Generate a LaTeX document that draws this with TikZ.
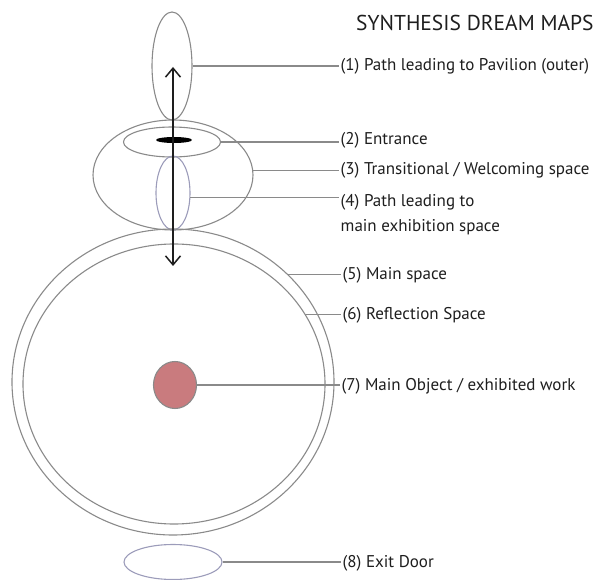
\documentclass[tikz,border=0pt]{standalone}
\usepackage{fontspec}
\setmainfont{PT Sans}
\usetikzlibrary{shapes.geometric,arrows.meta}
\definecolor{ln}{HTML}{8A8A8A}
\definecolor{pl}{HTML}{9C9CBA}
\definecolor{obj}{HTML}{C97B7E}
\definecolor{txt}{HTML}{1E1E1E}
\begin{document}
\begin{tikzpicture}[x=1pt,y=-1pt,
  shp/.style={ellipse,draw=ln,line width=1.1pt,inner sep=0pt,minimum width=#1},
  lbl/.style={anchor=west,inner sep=1.5pt,font=\fontsize{17}{25}\selectfont,text=txt,align=left},
  lead/.style={draw=ln,line width=1.1pt}]
\useasboundingbox (0,0) rectangle (595,580);
% shapes
\node[shp=40pt,minimum height=108pt] (p1) at (172,66) {};
\node[shp=160pt,minimum height=110pt] (t) at (173,175) {};
\node[shp=97pt,minimum height=30pt] (e2) at (172,142) {};
\node[shp=34pt,minimum height=74pt,draw=pl] (p4) at (173,193) {};
\node[shp=322pt,minimum height=306pt] (outer) at (173,382) {};
\node[shp=302pt,minimum height=280pt] (inner) at (174,384) {};
\node[shp=43pt,minimum height=47pt,fill=obj] (red) at (175,385) {};
\node[shp=98pt,minimum height=35pt,draw=pl] (exit) at (173,562) {};
\node[ellipse,fill=black,inner sep=0pt,minimum width=36pt,minimum height=6pt] (bar) at (174,140) {};
% arrow
\coordinate (atop) at (173,67);
\coordinate (abot) at (173,266);
\draw[line width=1.5pt,draw=txt,{Straight Barb[length=9pt,width=15pt]}-{Straight Barb[length=9pt,width=15pt]}] (atop) -- (abot);
% labels
\node[anchor=west,inner sep=0pt,font=\fontsize{21.5}{24}\selectfont,text=txt] (title) at (356,23) {SYNTHESIS DREAM MAPS};
\node[lbl] (l1) at (339,66) {(1) Path leading to Pavilion (outer)};
\node[lbl] (l2) at (339,140) {(2) Entrance};
\node[lbl] (l3) at (339,170) {(3) Transitional / Welcoming space};
\node[lbl] (l4) at (339,214.5) {(4) Path leading to\\main exhibition space};
\node[lbl] (l5) at (341,275) {(5) Main space};
\node[lbl] (l6) at (341,315) {(6) Reflection Space};
\node[lbl] (l7) at (340,386) {(7) Main Object / exhibited work};
\node[lbl] (l8) at (341,563) {(8) Exit Door};
% leaders
\path[lead] (p1.east) -- (p1.east -| l1.west);
\path[lead] (e2.east) -- (e2.east -| l2.west);
\path[lead] (t.3) -- (t.3 -| l3.west);
\path[lead] (p4.-14) -- (p4.-14 -| l4.west);
\path[lead] (outer.43) -- (outer.43 -| l5.west);
\path[lead] (inner.28) -- (inner.28 -| l6.west);
\path[lead] (red.east) -- (red.east -| l7.west);
\path[lead] (exit.east) -- (exit.east -| l8.west);
\end{tikzpicture}
\end{document}
